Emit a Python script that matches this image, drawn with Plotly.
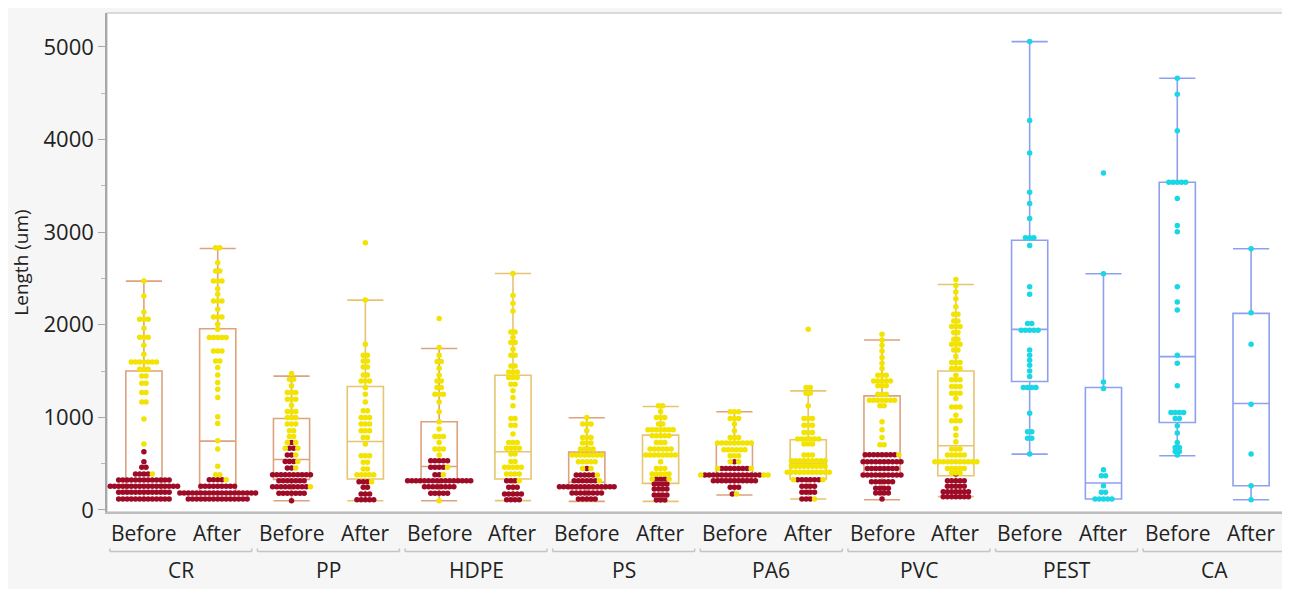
import numpy as np
import plotly.graph_objects as go

# ---------------- categories ----------------
materials = ["CR", "PP", "HDPE", "PS", "PA6", "PVC", "PEST", "CA"]
phases = ["Before", "After"]

# ---------------- box statistics (order: CR-Before, CR-After, PP-Before, ...) ----------------
box_q1 = [190, 190, 330, 334, 320, 334, 230, 287, 340, 334, 370, 370, 1387, 118, 945, 262]
box_median = [255, 743, 545, 740, 470, 628, 300, 593, 450, 500, 600, 693, 1950, 291, 1656, 1150]
box_q3 = [1501, 1957, 988, 1333, 952, 1455, 625, 808, 736, 758, 1232, 1501, 2913, 1322, 3538, 2123]
box_low = [118, 118, 100, 100, 100, 101, 93, 93, 162, 118, 111, 144, 603, 118, 585, 111]
box_high = [2471, 2823, 1445, 2266, 1743, 2554, 995, 1117, 1060, 1286, 1835, 2435, 5057, 2550, 4662, 2820]

# ---------------- points: (length value, number of points at that value) ----------------
cr_before_red = [(628, 1), (521, 1), (460, 2), (388, 4), (323, 13), (255, 17), (190, 13), (118, 13)]
cr_before_yel = [(2471, 1), (2309, 1), (2137, 1), (2058, 3), (1961, 1), (1864, 3), (1778, 1), (1681, 1),
                 (1598, 7), (1519, 3), (1447, 2), (1369, 2), (1268, 2), (1167, 2), (981, 1), (711, 1), (388, 1)]
cr_after_red = [(327, 4), (255, 9), (183, 19), (118, 15)]
cr_after_yel = [(2831, 2), (2669, 1), (2579, 2), (2471, 3), (2389, 1), (2328, 1), (2256, 3), (2166, 1),
                (2083, 3), (2004, 1), (1950, 1), (1861, 5), (1717, 3), (1609, 2), (1537, 1), (1458, 1),
                (1376, 1), (1304, 1), (1214, 1), (1006, 1), (934, 1), (747, 1), (657, 1), (471, 1),
                (381, 2), (327, 1)]
pp_before_red = [(729, 1), (665, 2), (593, 2), (524, 3), (453, 2), (381, 10), (316, 7), (251, 9), (180, 7), (100, 1)]
pp_before_yel = [(1473, 1), (1411, 2), (1340, 1), (1268, 3), (1196, 3), (1131, 1), (1063, 3), (998, 3),
                 (927, 3), (855, 2), (794, 2), (729, 2), (665, 2), (593, 1), (524, 1), (453, 1), (251, 1)]
pp_after_red = [(305, 3), (245, 2), (172, 3), (111, 5)]
pp_after_yel = [(2884, 1), (2266, 1), (1789, 1), (1670, 2), (1609, 2), (1545, 2), (1458, 2), (1393, 3),
                (1322, 1), (1250, 1), (1167, 1), (1070, 2), (998, 3), (927, 3), (855, 3), (783, 2),
                (711, 1), (585, 3), (514, 2), (442, 2), (381, 5), (305, 1)]
hdpe_before_red = [(531, 5), (460, 4), (381, 2), (316, 16), (251, 8), (180, 5)]
hdpe_before_yel = [(2066, 1), (1753, 1), (1670, 1), (1602, 2), (1530, 1), (1455, 1), (1393, 2), (1322, 2),
                   (1250, 3), (1167, 1), (1060, 1), (952, 1), (873, 1), (794, 3), (729, 1), (657, 3),
                   (593, 1), (460, 1), (381, 1), (100, 1)]
hdpe_after_red = [(316, 3), (245, 3), (172, 5), (111, 4)]
hdpe_after_yel = [(2554, 1), (2317, 1), (2231, 1), (2148, 1), (1922, 2), (1861, 1), (1807, 2), (1735, 1),
                  (1670, 2), (1555, 2), (1491, 3), (1430, 3), (1358, 2), (1286, 1), (1214, 1), (1124, 1),
                  (988, 2), (916, 2), (819, 1), (729, 3), (665, 4), (603, 2), (524, 2), (460, 5),
                  (388, 4), (316, 1)]
ps_before_red = [(449, 1), (377, 5), (316, 6), (251, 14), (183, 8), (118, 5)]
ps_before_yel = [(998, 1), (927, 3), (855, 1), (783, 3), (722, 3), (657, 4), (593, 8), (521, 5),
                 (449, 2), (377, 1), (316, 1)]
ps_after_red = [(334, 3), (280, 4), (226, 4), (162, 4), (108, 3)]
ps_after_yel = [(1124, 2), (1063, 1), (998, 3), (927, 2), (866, 7), (801, 5), (729, 3), (657, 6),
                (593, 8), (521, 1), (449, 3), (388, 5), (334, 2)]
pa6_before_red = [(521, 1), (449, 7), (377, 14), (316, 11), (245, 3), (172, 1)]
pa6_before_yel = [(1060, 3), (988, 3), (927, 1), (855, 1), (783, 3), (722, 9), (650, 6), (585, 3),
                  (521, 2), (449, 2), (377, 3), (172, 1)]
pa6_after_red = [(327, 6), (255, 4), (190, 4), (118, 3)]
pa6_after_yel = [(1950, 1), (1322, 2), (1261, 2), (1124, 1), (988, 3), (916, 3), (837, 3), (765, 6),
                 (711, 3), (593, 3), (531, 9), (471, 9), (406, 11), (327, 2), (118, 1)]
pvc_before_red = [(596, 8), (521, 10), (449, 8), (377, 10), (305, 6), (234, 4), (183, 4), (118, 1)]
pvc_before_yel = [(1897, 1), (1835, 1), (1778, 1), (1717, 1), (1645, 1), (1584, 1), (1527, 1), (1455, 3),
                  (1393, 5), (1340, 3), (1250, 3), (1185, 7), (1124, 2), (952, 1), (866, 1), (783, 1),
                  (704, 2), (596, 1)]
pvc_after_red = [(388, 1), (316, 5), (255, 5), (197, 7), (144, 7)]
pvc_after_yel = [(2489, 1), (2425, 1), (2353, 1), (2281, 1), (2195, 1), (2112, 2), (2040, 2), (1980, 3),
                 (1915, 2), (1843, 2), (1789, 3), (1727, 2), (1656, 1), (1591, 3), (1527, 3), (1455, 1),
                 (1405, 3), (1333, 3), (1261, 3), (1204, 1), (1113, 3), (1024, 1), (963, 3), (880, 1),
                 (808, 1), (736, 1), (657, 3), (593, 5), (521, 11), (449, 5), (399, 3)]
pest_before_cyan = [(5057, 1), (4206, 1), (3854, 1), (3430, 1), (3308, 1), (3147, 1), (2938, 3), (2856, 1),
                    (2410, 1), (2328, 1), (2012, 2), (1940, 5), (1727, 1), (1670, 1), (1616, 1), (1562, 1),
                    (1501, 1), (1440, 1), (1322, 4), (1045, 1), (844, 2), (773, 2), (603, 1)]
pest_after_cyan = [(3639, 1), (2550, 1), (1383, 1), (1311, 1), (434, 1), (370, 2), (262, 1), (190, 2), (118, 5)]
ca_before_cyan = [(4662, 1), (4490, 1), (4095, 1), (3538, 5), (3362, 1), (3071, 1), (3003, 1), (2410, 1),
                  (2245, 1), (2159, 1), (1670, 1), (1584, 1), (1340, 1), (1052, 4), (988, 2), (909, 1),
                  (830, 1), (729, 1), (675, 2), (630, 2), (593, 1)]
ca_after_cyan = [(2820, 1), (2130, 1), (1789, 1), (1142, 1), (603, 1), (262, 1), (111, 1)]

# ---------------- styles ----------------
RED = "#9E0B27"
YEL = "#F2E300"
CYAN = "#19D7E4"
BROWN = "#DDA27E"
GOLD = "#E7C470"
BLUE = "#8EA0EE"
box_colors = [BROWN, BROWN, BROWN, GOLD, BROWN, GOLD, BROWN, GOLD,
              BROWN, GOLD, BROWN, GOLD, BLUE, BLUE, BLUE, BLUE]
FONT = "Segoe UI, Open Sans, DejaVu Sans, sans-serif"
DX = 0.057  # horizontal spacing of swarm dots (category units)

groups = [
    (cr_before_red, cr_before_yel, []), (cr_after_red, cr_after_yel, []),
    (pp_before_red, pp_before_yel, []), (pp_after_red, pp_after_yel, []),
    (hdpe_before_red, hdpe_before_yel, []), (hdpe_after_red, hdpe_after_yel, []),
    (ps_before_red, ps_before_yel, []), (ps_after_red, ps_after_yel, []),
    (pa6_before_red, pa6_before_yel, []), (pa6_after_red, pa6_after_yel, []),
    (pvc_before_red, pvc_before_yel, []), (pvc_after_red, pvc_after_yel, []),
    ([], [], pest_before_cyan), ([], [], pest_after_cyan),
    ([], [], ca_before_cyan), ([], [], ca_after_cyan),
]

fig = go.Figure()

# boxes
for i in range(len(groups)):
    fig.add_trace(go.Box(
        x=[i], q1=[box_q1[i]], median=[box_median[i]], q3=[box_q3[i]],
        lowerfence=[box_low[i]], upperfence=[box_high[i]],
        width=0.49, whiskerwidth=1, boxpoints=False,
        line=dict(color=box_colors[i], width=1.6),
        fillcolor="rgba(0,0,0,0)", hoverinfo="skip", showlegend=False))

# beeswarm points
pts = {"r": ([], []), "y": ([], []), "c": ([], [])}
for i, (red, yel, cyan) in enumerate(groups):
    rows = {}
    for key, pairs in (("r", red), ("y", yel), ("c", cyan)):
        for v, n in pairs:
            rows.setdefault(v, []).extend([key] * n)
    for v, keys in rows.items():
        k = len(keys)
        offs = (np.arange(k) - (k - 1) / 2.0) * DX
        order = sorted(range(k), key=lambda j: 0 if keys[j] == "r" else 1)
        centre_first = sorted(range(k), key=lambda j: abs(offs[j]))
        for slot, j in zip(centre_first, order):
            pts[keys[j]][0].append(i + offs[slot])
            pts[keys[j]][1].append(v)

for key, col in (("r", RED), ("y", YEL), ("c", CYAN)):
    fig.add_trace(go.Scatter(x=pts[key][0], y=pts[key][1], mode="markers",
                             marker=dict(size=5.5, color=col, line=dict(width=0)),
                             hoverinfo="skip", showlegend=False))

# x labels (two levels) + group brackets
ph = 499.0
annotations = []
shapes = []
for g, mat in enumerate(materials):
    for p, phase in enumerate(phases):
        annotations.append(dict(x=2 * g + p, xref="x", y=0, yref="paper", yanchor="middle",
                                yshift=-21, text=phase, showarrow=False,
                                font=dict(family=FONT, size=21, color="#222222")))
    annotations.append(dict(x=2 * g + 0.5, xref="x", y=0, yref="paper", yanchor="middle",
                            yshift=-58, text=mat, showarrow=False,
                            font=dict(family=FONT, size=21, color="#222222")))
    yb = -39.5 / ph
    x0, x1 = 2 * g + 0.5 - 0.962, 2 * g + 0.5 + 0.962
    shapes.append(dict(type="line", xref="x", yref="paper", x0=x0, x1=x1, y0=yb, y1=yb,
                       line=dict(color="#C4C4C4", width=1.5)))
    for xe in (x0, x1):
        shapes.append(dict(type="line", xref="x", yref="paper", x0=xe, x1=xe, y0=yb, y1=yb + 3 / ph,
                           line=dict(color="#C4C4C4", width=1.5)))

# plot border
shapes.append(dict(type="rect", xref="paper", yref="paper", x0=0, x1=1, y0=0, y1=1,
                   line=dict(color="#CFCFCF", width=1.5), fillcolor="rgba(0,0,0,0)", layer="below"))

# the page body adds an 8px offset, so the figure is sized to land the plot area where the reference has it
fig.update_layout(
    width=1282, height=581,
    margin=dict(l=99, r=2, t=5, b=77),
    paper_bgcolor="#F6F6F6", plot_bgcolor="white",
    showlegend=False, boxmode="overlay",
    annotations=annotations, shapes=shapes,
    xaxis=dict(range=[-0.5, 15.5], showticklabels=False, showgrid=False, zeroline=False,
               showline=True, linecolor="#BDBDBD", linewidth=1.5, ticks=""),
    yaxis=dict(range=[-22, 5366], tick0=0, dtick=1000, showgrid=False, zeroline=False,
               showline=True, linecolor="#A8A8A8", linewidth=1.5,
               ticks="outside", ticklen=7, tickcolor="#A8A8A8", tickwidth=1,
               minor=dict(ticks="outside", ticklen=4, dtick=500, tickcolor="#B8B8B8", showgrid=False),
               tickfont=dict(family=FONT, size=22, color="#222222"),
               title=dict(text="Length (um)", font=dict(family=FONT, size=19, color="#222222"), standoff=10)),
)

fig.write_html("out.html")
